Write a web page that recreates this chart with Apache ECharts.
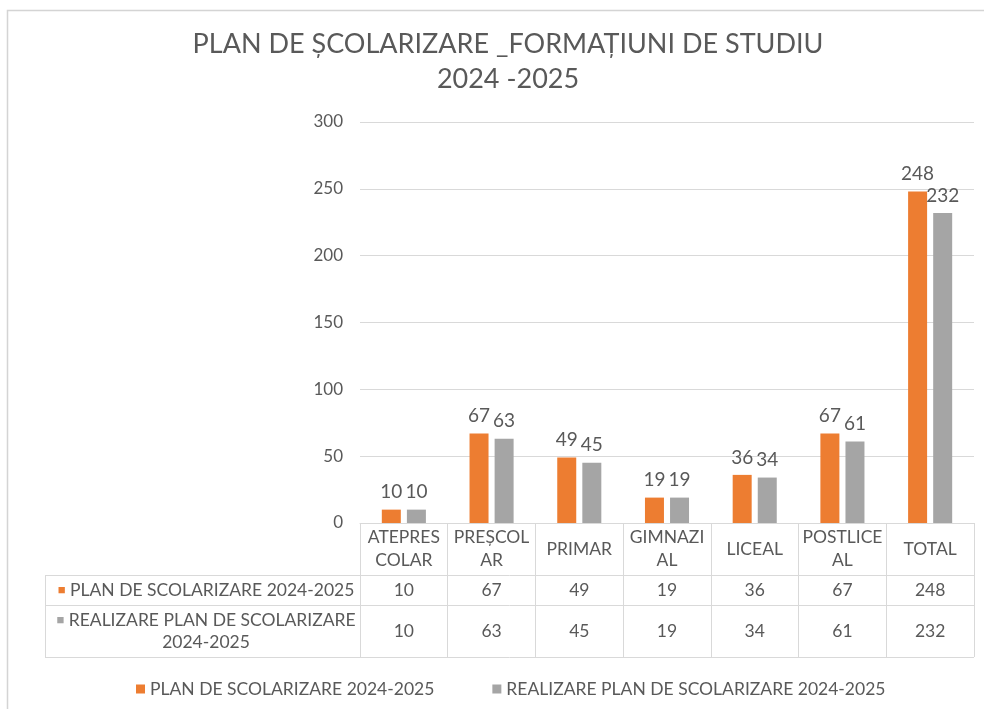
<!DOCTYPE html>
<html>
<head>
<meta charset="utf-8">
<script src="https://cdn.jsdelivr.net/npm/echarts@6/dist/echarts.min.js"></script>
<style>
html,body{margin:0;padding:0;background:#fff;}
#c{width:984px;height:709px;}
</style>
</head>
<body>
<div id="c"></div>
<script>
const titleText = 'PLAN DE ȘCOLARIZARE _FORMAȚIUNI DE STUDIU\n2024 -2025';
const categories = ['ATEPRES\nCOLAR', 'PREȘCOL\nAR', 'PRIMAR', 'GIMNAZI\nAL', 'LICEAL', 'POSTLICE\nAL', 'TOTAL'];
const seriesNames = ['PLAN DE SCOLARIZARE 2024-2025', 'REALIZARE PLAN DE SCOLARIZARE 2024-2025'];
const rowHeaders = ['PLAN DE SCOLARIZARE 2024-2025', 'REALIZARE PLAN DE SCOLARIZARE\n2024-2025'];
const planValues = [10, 67, 49, 19, 36, 67, 248];
const realValues = [10, 63, 45, 19, 34, 61, 232];
const yTicks = [0, 50, 100, 150, 200, 250, 300];

const ORANGE = '#ED7D31', GRAY = '#A5A5A5', TXT = '#595959', LINE = '#D9D9D9';
const FONT = 'Lato';
const FS = 17.5;

const chart = echarts.init(document.getElementById('c'), null, {renderer: 'canvas'});

function rowAxis(values, margin) {
  return {
    type: 'category', data: categories, position: 'bottom', gridIndex: 0,
    axisLine: {show: false}, axisTick: {show: false},
    axisLabel: {
      interval: 0, margin: margin, verticalAlign: 'middle',
      color: TXT, fontSize: FS, fontFamily: FONT,
      formatter: (v, i) => String(values[i])
    }
  };
}

const tableLeft = 45, tableRight = 974;
const lineYs = [575, 605, 657];

chart.setOption({
  backgroundColor: '#fff',
  animation: false,
  textStyle: {fontFamily: FONT},
  title: {
    text: titleText,
    left: 503, top: 22, textAlign: 'center',
    textStyle: {color: TXT, fontSize: 27, fontWeight: 'normal', fontFamily: FONT, lineHeight: 35}
  },
  legend: {
    left: 131, top: 675, itemWidth: 9, itemHeight: 9, itemGap: 58, icon: 'rect',
    textStyle: {color: TXT, fontSize: FS, fontFamily: FONT},
    data: seriesNames
  },
  grid: {left: 360, right: 984 - tableRight, top: 122, bottom: 709 - 523, containLabel: false},
  xAxis: [
    {
      type: 'category', data: categories, position: 'bottom',
      axisLine: {show: true, lineStyle: {color: LINE, width: 1}},
      axisTick: {show: true, interval: 0, length: 134, alignWithLabel: false, lineStyle: {color: LINE}},
      axisLabel: {interval: 0, margin: 26, verticalAlign: 'middle', color: TXT, fontSize: FS, fontFamily: FONT, lineHeight: 23, align: 'center'}
    },
    rowAxis(planValues, 67),
    rowAxis(realValues, 108)
  ],
  yAxis: {
    type: 'value', min: 0, max: 300, interval: 50,
    axisLine: {show: false}, axisTick: {show: false},
    splitLine: {lineStyle: {color: LINE, width: 1}},
    axisLabel: {margin: 17, color: TXT, fontSize: 17, fontFamily: FONT,
      formatter: v => yTicks.includes(v) ? String(v) : ''}
  },
  series: [
    {
      name: seriesNames[0], type: 'bar', data: planValues, barWidth: 19, barGap: '32%',
      itemStyle: {color: ORANGE},
      label: {show: true, position: 'top', distance: 8, color: TXT, fontSize: 19, fontFamily: FONT}
    },
    {
      name: seriesNames[1], type: 'bar', data: realValues, barWidth: 19, barGap: '32%',
      itemStyle: {color: GRAY},
      label: {show: true, position: 'top', distance: 8, color: TXT, fontSize: 19, fontFamily: FONT}
    }
  ],
  graphic: [
    {type: 'rect', shape: {x: 7.5, y: 10.5, width: 1100, height: 800}, style: {fill: 'none', stroke: '#D4D4D4', lineWidth: 1.5}, silent: true},
    ...lineYs.map(y => ({type: 'line', shape: {x1: tableLeft, y1: y + 0.5, x2: tableRight, y2: y + 0.5}, style: {stroke: LINE, lineWidth: 1}, silent: true})),
    {type: 'line', shape: {x1: tableLeft + 0.5, y1: lineYs[0], x2: tableLeft + 0.5, y2: lineYs[2]}, style: {stroke: LINE, lineWidth: 1}, silent: true},
    {type: 'text', x: 206, y: 590, style: {
      text: '{o|■} ' + rowHeaders[0], align: 'center', verticalAlign: 'middle',
      fill: TXT, fontSize: FS, fontFamily: FONT,
      rich: {o: {fill: ORANGE, fontSize: 13}}
    }},
    {type: 'text', x: 206, y: 631, style: {
      text: '{g|■} ' + rowHeaders[1].split('\n')[0] + '\n' + rowHeaders[1].split('\n')[1], align: 'center', verticalAlign: 'middle',
      fill: TXT, fontSize: FS, fontFamily: FONT, lineHeight: 22,
      rich: {g: {fill: GRAY, fontSize: 13}}
    }}
  ]
});
</script>
</body>
</html>
